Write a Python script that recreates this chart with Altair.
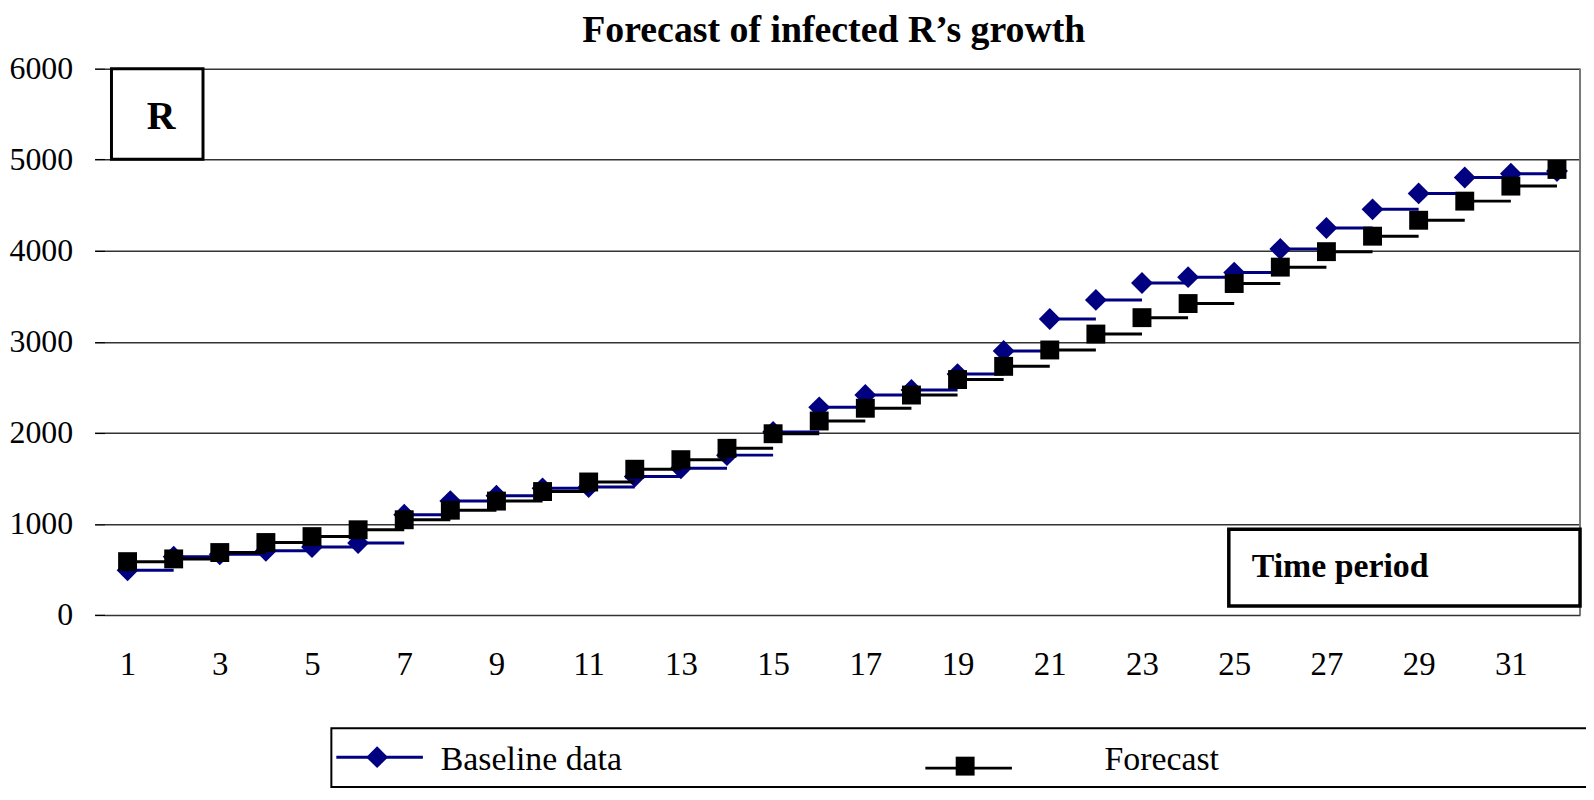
import altair as alt
import pandas as pd

periods = list(range(1, 33))
baseline = [490, 640, 665, 705, 745, 790, 1100, 1250, 1310, 1390, 1405, 1520,
            1610, 1755, 2010, 2280, 2415, 2470, 2645, 2900, 3250, 3460, 3645, 3710,
            3760, 4020, 4250, 4455, 4630, 4805, 4845, 4875]
forecast = [585, 615, 685, 795, 860, 935, 1045, 1150, 1250, 1355, 1460, 1600,
            1705, 1830, 1990, 2130, 2270, 2415, 2585, 2730, 2910, 3085, 3265, 3420,
            3640, 3820, 3990, 4160, 4335, 4545, 4710, 4893]
y_ticks = [0, 1000, 2000, 3000, 4000, 5000, 6000]
x_ticks = [1, 3, 5, 7, 9, 11, 13, 15, 17, 19, 21, 23, 25, 27, 29, 31]
series_names = ["Baseline data", "Forecast"]
series_colors = ["#000080", "#000000"]

W, H = 1483, 549
FONT = "Liberation Serif"

rows = []
for name, vals in zip(series_names, [baseline, forecast]):
    for p, v in zip(periods, vals):
        rows.append({"series": name, "period": p, "next": p + 1, "value": v})
df = pd.DataFrame(rows)

xs = alt.Scale(domain=[0.5, 32.5], nice=False, zero=False)
ys = alt.Scale(domain=[0, 6000], nice=False)

X = alt.X("period:Q", scale=xs, axis=alt.Axis(values=x_ticks, title=None, ticks=False, domain=False,
                                              grid=False, labelFont=FONT, labelFontSize=33,
                                              labelColor="black", labelBaseline="middle",
                                              labelPadding=50, labelFlush=False, format="d"))
Y = alt.Y("value:Q", scale=ys, axis=alt.Axis(values=y_ticks, title=None, domain=False, format="d",
                                             tickSize=10, tickColor="black", tickWidth=1.5,
                                             gridColor="#333333", gridWidth=1.5,
                                             labelFont=FONT, labelFontSize=32, labelColor="black",
                                             labelPadding=22))

base = alt.Chart(df)

def series_layers(name, color, shape, size):
    d = base.transform_filter(alt.datum.series == name)
    seg = d.transform_filter(alt.datum.period < 32).mark_rule(color=color, strokeWidth=3).encode(
        x=X, x2="next:Q", y=Y)
    pts = d.mark_point(shape=shape, filled=True, size=size, color=color, opacity=1).encode(x=X, y=Y)
    return [seg, pts]

layers = []
layers += series_layers("Baseline data", series_colors[0], "diamond", 484)
layers += series_layers("Forecast", series_colors[1], "square", 361)

dummy = alt.Chart(pd.DataFrame({"a": [0]}))

right_border = dummy.mark_rule(color="#777777", strokeWidth=2).encode(
    x=alt.value(W), y=alt.value(0), y2=alt.value(H))

r_box = dummy.mark_rect(fill="white", stroke="black", strokeWidth=3).encode(
    x=alt.value(7), x2=alt.value(99), y=alt.value(0), y2=alt.value(91))
r_text = dummy.mark_text(text="R", font=FONT, fontSize=40, fontWeight="bold", color="black",
                         align="center", baseline="middle").encode(x=alt.value(57), y=alt.value(49))

tp_box = dummy.mark_rect(fill="white", stroke="black", strokeWidth=3.5).encode(
    x=alt.value(1130), x2=alt.value(1483), y=alt.value(463), y2=alt.value(540))
tp_text = dummy.mark_text(text="Time period", font=FONT, fontSize=34, fontWeight="bold", color="black",
                          align="left", baseline="middle").encode(x=alt.value(1153), y=alt.value(501))

title = dummy.mark_text(text="Forecast of infected R\u2019s growth", font=FONT, fontSize=38,
                        fontWeight="bold", color="black", align="center",
                        baseline="top").encode(x=alt.value(733), y=alt.value(-57))

leg_box = dummy.mark_rect(fill="white", stroke="black", strokeWidth=2).encode(
    x=alt.value(228), x2=alt.value(1490), y=alt.value(663), y2=alt.value(722))
leg_line1 = dummy.mark_rule(color=series_colors[0], strokeWidth=3).encode(
    x=alt.value(233), x2=alt.value(320), y=alt.value(692))
leg_pt1 = dummy.mark_point(shape="diamond", filled=True, size=484, color=series_colors[0], opacity=1).encode(
    x=alt.value(274), y=alt.value(692))
leg_txt1 = dummy.mark_text(text=series_names[0], font=FONT, fontSize=34, color="black",
                           align="left", baseline="alphabetic").encode(x=alt.value(338), y=alt.value(705))
leg_line2 = dummy.mark_rule(color=series_colors[1], strokeWidth=3).encode(
    x=alt.value(825), x2=alt.value(912), y=alt.value(703))
leg_pt2 = dummy.mark_point(shape="square", filled=True, size=361, color=series_colors[1], opacity=1).encode(
    x=alt.value(865), y=alt.value(701))
leg_txt2 = dummy.mark_text(text=series_names[1], font=FONT, fontSize=34, color="black",
                           align="left", baseline="alphabetic").encode(x=alt.value(1005), y=alt.value(705))

chart = alt.layer(
    *layers, right_border, r_box, r_text, tp_box, tp_text, title,
    leg_box, leg_line1, leg_pt1, leg_txt1, leg_line2, leg_pt2, leg_txt2
).properties(
    width=W, height=H,
    autosize=alt.AutoSizeParams(type="none"),
    padding={"left": 97, "top": 59, "right": 6, "bottom": 172},
    background="white",
).configure_view(stroke=None)

chart.save("out.html", embed_options={"renderer": "svg", "actions": False})
